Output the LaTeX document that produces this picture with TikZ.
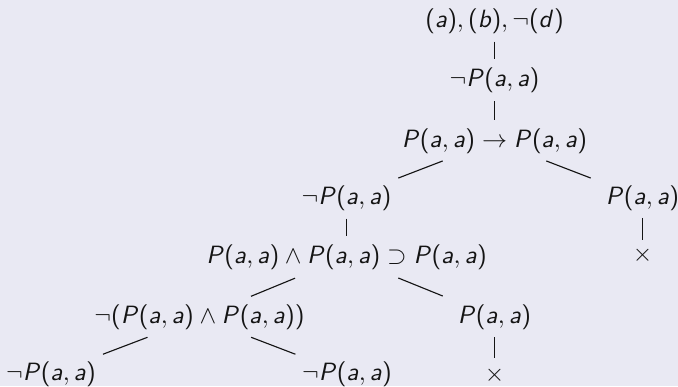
\documentclass[tikz,border=0pt]{standalone}
\usetikzlibrary{calc}
\DeclareSymbolFont{sfletters}{OT1}{cmss}{m}{sl}
\DeclareSymbolFont{sfops}{OT1}{cmss}{m}{n}
\DeclareMathSymbol{P}{\mathalpha}{sfletters}{`P}
\DeclareMathSymbol{a}{\mathalpha}{sfletters}{`a}
\DeclareMathSymbol{b}{\mathalpha}{sfletters}{`b}
\DeclareMathSymbol{d}{\mathalpha}{sfletters}{`d}
\DeclareMathDelimiter{(}{\mathopen}{sfops}{`(}{largesymbols}{"00}
\DeclareMathDelimiter{)}{\mathclose}{sfops}{`)}{largesymbols}{"01}
\definecolor{bgcol}{RGB}{233,233,243}
\definecolor{fgcol}{RGB}{20,20,20}
\tikzset{
  lbl/.style={inner sep=0pt, text=fgcol},
  treeline/.style={draw=fgcol, line width=0.45pt}
}
\newcommand\tedge[3][0.35]{\draw[treeline] ($(#2)!0.35!(#3)$) -- ($(#3)!#1!(#2)$);}
\begin{document}
\begin{tikzpicture}[x=0.4pt,y=-0.4pt]
\fill[bgcol] (0,0) rectangle (678,386);
\useasboundingbox (0,0) rectangle (678,386);
\node[lbl] (r) at (494.5,21) {$(a), (b), \neg(d)$};
\node[lbl] (n1) at (494.5,80) {$\neg P(a, a)$};
\node[lbl] (n2) at (494.5,141) {$P(a, a) \to P(a, a)$};
\node[lbl] (l) at (346.5,198) {$\neg P(a, a)$};
\node[lbl] (rr) at (642.5,198) {$P(a, a)$};
\node[lbl] (x1) at (642.5,255) {$\times$};
\node[lbl] (big) at (346.5,257) {$P(a, a) \wedge P(a, a) \supset P(a, a)$};
\node[lbl] (nc) at (199.5,317.5) {$\neg(P(a, a) \wedge P(a, a))$};
\node[lbl] (pm) at (494.5,317) {$P(a, a)$};
\node[lbl] (b1) at (51,374) {$\neg P(a, a)$};
\node[lbl] (b2) at (347,374) {$\neg P(a, a)$};
\node[lbl] (x2) at (494.5,375) {$\times$};
\tedge{r}{n1}
\tedge{n1}{n2}
\tedge{n2}{l}
\tedge{n2}{rr}
\tedge[0.27]{rr}{x1}
\tedge{l}{big}
\tedge{big}{nc}
\tedge{big}{pm}
\tedge{nc}{b1}
\tedge{nc}{b2}
\tedge[0.3]{pm}{x2}
\end{tikzpicture}
\end{document}
